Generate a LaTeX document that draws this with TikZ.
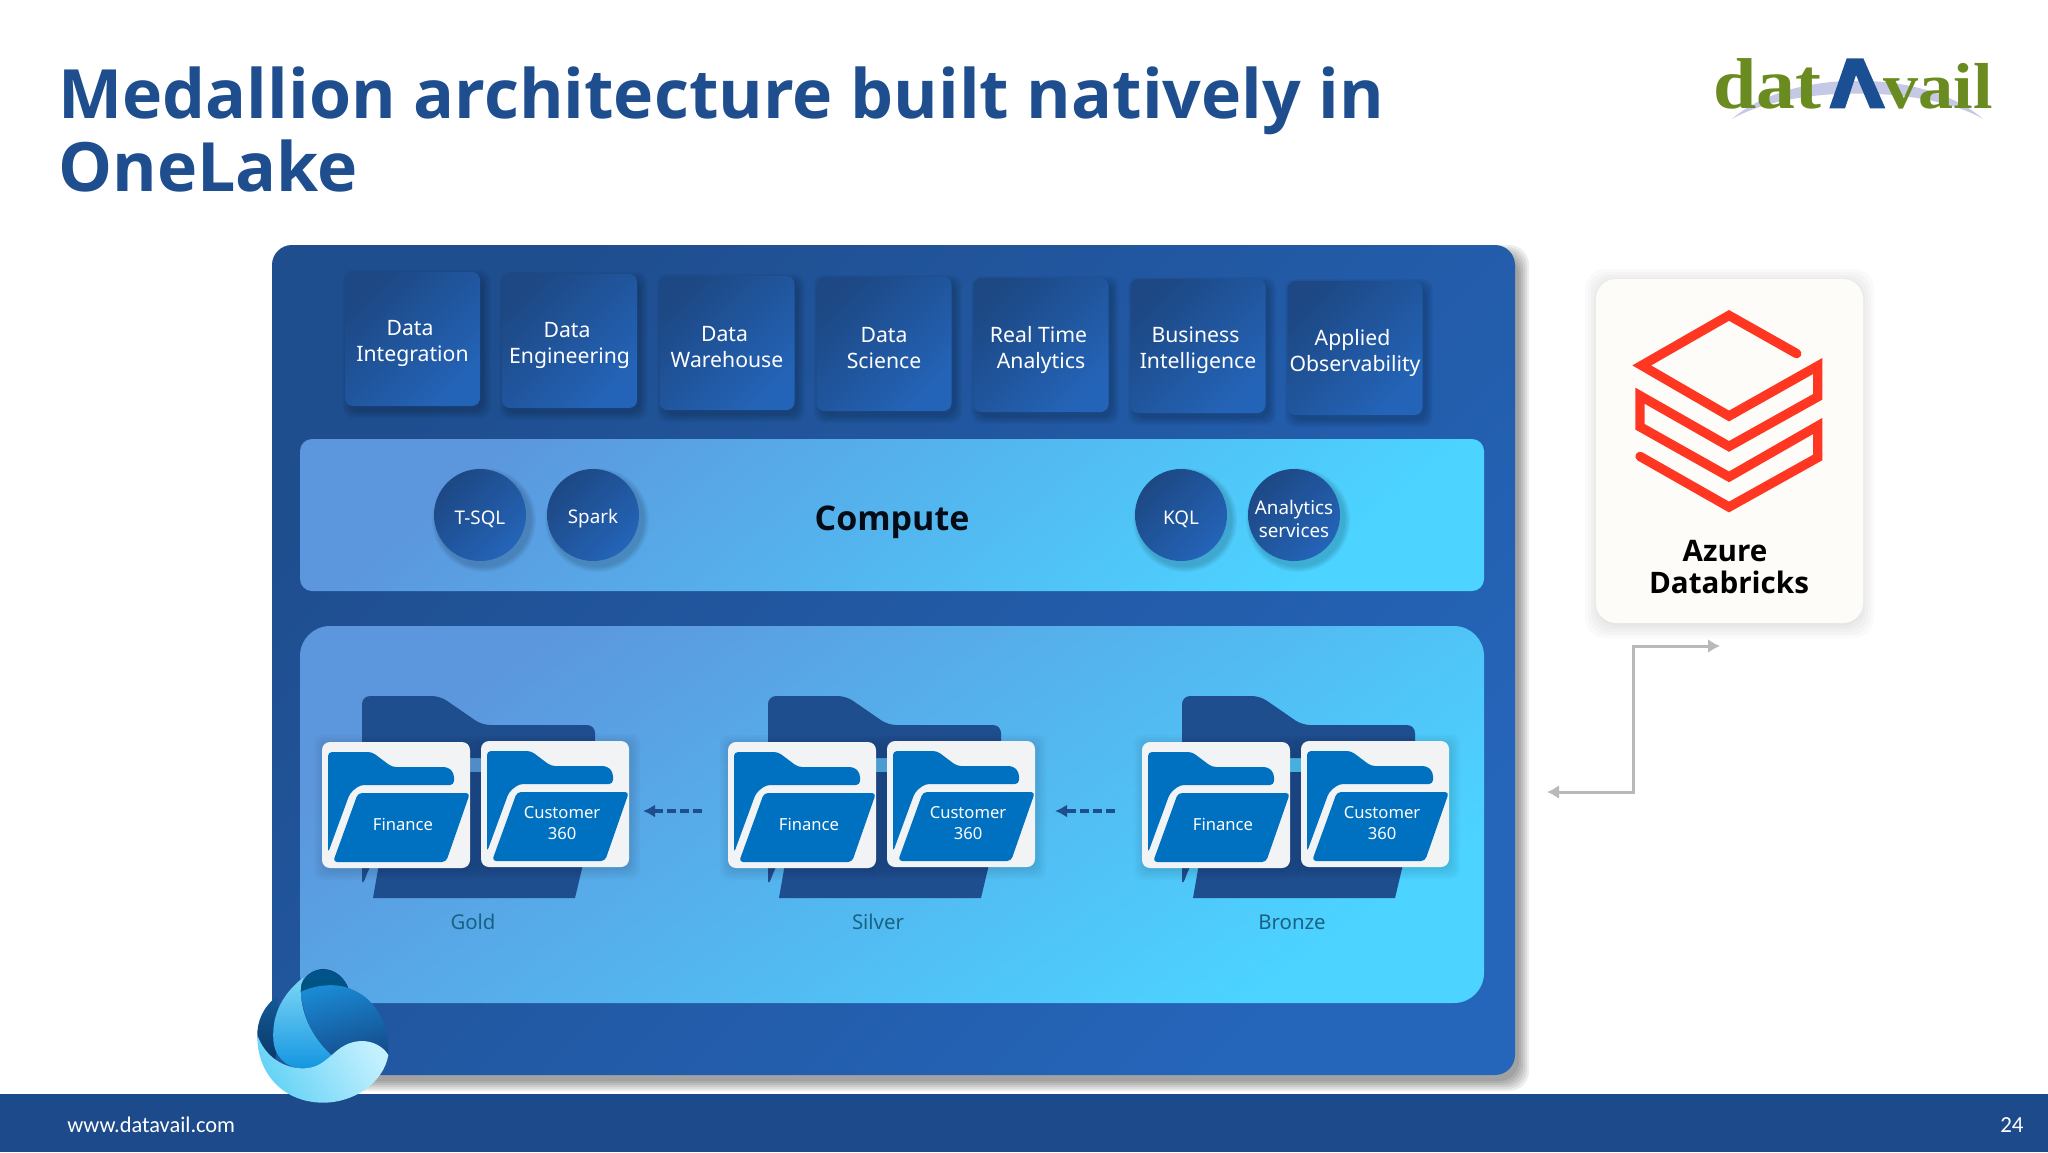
\documentclass[tikz,border=0pt]{standalone}
\usepackage{fontspec}
\setmainfont{Noto Sans}
\newfontfamily\bfont{Open Sans}
\newfontfamily\logofont{Liberation Serif}[BoldFont={Liberation Serif Bold},BoldFeatures={FakeStretch=1.08}]
\newfontfamily\footfont{Carlito}
\usetikzlibrary{arrows.meta}
\definecolor{navy}{HTML}{1F4E8F}
\definecolor{navyD}{HTML}{1C4A8A}
\definecolor{panelA}{HTML}{1F4E8F}
\definecolor{panelB}{HTML}{2565BA}
\definecolor{tileA}{HTML}{1D4884}
\definecolor{tileB}{HTML}{2464B8}
\definecolor{bandA}{HTML}{5C96DD}
\definecolor{bandB}{HTML}{4CD3FF}
\definecolor{folderblue}{HTML}{0070C0}
\definecolor{cardwhite}{HTML}{F2F3F5}
\definecolor{brick}{HTML}{FF3621}
\definecolor{logogreen}{HTML}{6A8B1F}
\definecolor{logoblue}{HTML}{1B4F93}
\definecolor{lilac}{HTML}{C6C9E6}
\definecolor{teal1}{HTML}{1A6285}
\definecolor{greyline}{HTML}{B9B9B9}
\definecolor{dbxcard}{HTML}{FDFCF8}
\newcommand{\trl}[1]{\hbox{}\kern#1\hbox{}}
\newcommand{\softshadow}[7]{%
  \foreach \k in {1,...,6}{%
    \fill[black,fill opacity=#7,rounded corners=#5]
      ({#1-(6-\k)*#6},{#2-(6-\k)*#6}) rectangle ({#3+(6-\k)*#6},{#4+(6-\k)*#6});
  }}
\newcommand{\smallfolder}[4]{% name, x, y, text
  \softshadow{#2+2}{#3+3}{#2+149}{#3+128}{4pt}{2}{0.018}
  \node[cardbox] (#1) at ({#2+74},{#3+63}) {};
  \begin{scope}[shift={(#2,#3)}]
    \fill[folderblue,rounded corners=2pt] (6,10) -- (50,10) -- (70,25) -- (126,25) -- (132,31) -- (132,43) -- (38,43) -- (28,51) -- (6,111) -- cycle;
    \fill[folderblue,rounded corners=2pt] (36,51) -- (148,51) -- (124,120) -- (11,120) -- cycle;
    \node[foldertext] (#1t) at (81,82) {#4};
  \end{scope}}
\newcommand{\foldergroup}[2]{% prefix, dx
  \begin{scope}[shift={(#2,0)}]
    \fill[navy,rounded corners=4pt] (362,887) -- (362,696) -- (440,696) -- (482,725) -- (595,725) -- (595,758) -- (440,758) -- (369,868) -- cycle;
    \fill[navy] (395,772) -- (605,772) -- (575,898) -- (373,898) -- cycle;
    \smallfolder{#1fin}{322}{742}{Finance}
    \smallfolder{#1cus}{481}{741}{Customer\\360}
  \end{scope}}
\tikzset{
  tile/.style={minimum width=67.5pt,minimum height=67pt,rounded corners=4pt,inner sep=0pt,
    top color=tileA,bottom color=tileB,shading angle=45},
  tiletext/.style={text=white,align=center,inner sep=0pt,font=\fontsize{10.6}{13}\selectfont},
  engine/.style={circle,minimum size=46pt,inner sep=0pt,top color=tileA,bottom color=tileB,shading angle=45},
  enginetext/.style={text=white,align=center,inner sep=0pt,font=\fontsize{9.4}{11.8}\selectfont},
  cardbox/.style={minimum width=74pt,minimum height=63pt,rounded corners=4pt,fill=cardwhite,inner sep=0pt},
  foldertext/.style={text=white,align=center,font=\fontsize{8.3}{10.2}\selectfont},
  layerlabel/.style={text=teal1,font=\fontsize{10.2}{11}\selectfont},
  flowdash/.style={navy,line width=1.6pt,dash pattern=on 4.5pt off 2pt,-{Latex[length=6pt,width=6.5pt]}},
  linkline/.style={greyline,line width=1.5pt,{Latex[length=6pt,width=7pt]}-{Latex[length=6pt,width=7pt]}}
}
\begin{document}
\begin{tikzpicture}[x=0.5pt,y=-0.5pt]
\useasboundingbox (0,0) rectangle (2048,1152);
\fill[white] (0,0) rectangle (2048,1152);
% title
\node[anchor=north west,inner sep=0pt,align=left,text=navy,font=\bfont\bfseries\fontsize{34}{36.8}\selectfont] (title) at (58,66) {Medallion architecture built natively in\\OneLake};
% logo
\fill[lilac] (1732,119) .. controls (1790,68) and (1925,68) .. (1983,119) .. controls (1925,85) and (1790,85) .. (1732,119) -- cycle;
\node[anchor=base west,inner sep=0pt,text=logogreen,font=\logofont\bfseries\fontsize{36}{36}\selectfont] (logoa) at (1713,108) {dat};
\node[anchor=base west,inner sep=0pt,text=logogreen,font=\logofont\bfseries\fontsize{32.5}{33}\selectfont] (logob) at (1883,108) {vail};
\fill[logoblue] (1829.3,108.3) -- (1846.7,58.3) -- (1863.3,58.3) -- (1885.3,108.3) -- (1870,108.3) -- (1856,75) -- (1845,108.3) -- cycle;
% main panel
\softshadow{282}{255}{1519}{1081}{10pt}{2}{0.07}
\path[top color=panelA,bottom color=panelB,shading angle=45,rounded corners=10pt] (272,245) rectangle (1515,1075);
% tiles
\foreach \nm/\cx/\cy/\txt in {t1/412.5/339/{Data\trl{2.5pt}\\Integration},t2/569.5/341/{Data\trl{2.5pt}\\Engineering},t3/727/343/{Data\trl{2.5pt}\\Warehouse},t4/884/344/{Data\\Science},t5/1041/345/{Real Time\trl{2.5pt}\\Analytics},t6/1198/346/{Business\trl{2.5pt}\\Intelligence},t7/1355/348/{Applied\trl{2.5pt}\\Observability}}{
  \softshadow{\cx-63}{\cy-62}{\cx+71}{\cy+72}{5pt}{1.4}{0.035}
  \node[tile] (\nm) at (\cx,\cy) {};
  \node[tiletext] (\nm t) at (\cx,\cy+4.5) {\txt};
}
% compute band
\path[top color=bandA,bottom color=bandB,shading angle=40,rounded corners=6pt] (300,439) rectangle (1484,591);
\node[font=\bfont\bfseries\fontsize{17}{20}\selectfont,text=black!85!navy] (compute) at (892,522) {Compute};
\foreach \nm/\cx/\cy/\txt in {c1/480/515/{T-SQL},c2/593/515/{Spark},c3/1181/515/{KQL},c4/1294/515/{Analytics\\services}}{
  \foreach \k in {1,...,5}{
    \fill[black,fill opacity=0.035] (\cx+4,\cy+5) circle ({(46+(6-\k)*1.2)*0.5pt});
  }
  \node[engine] (\nm) at (\cx,\cy) {};
  \node[enginetext] (\nm t) at (\cx,\cy+4) {\txt};
}
% lake band
\path[top color=bandA,bottom color=bandB,shading angle=35,rounded corners=15pt] (300,626) rectangle (1484,1003);
\foldergroup{g}{0}
\foldergroup{s}{406}
\foldergroup{b}{820}
\node[layerlabel] (goldl) at (473,922) {Gold};
\node[layerlabel] (silverl) at (878,922) {Silver};
\node[layerlabel] (bronzel) at (1292,922) {Bronze};
% dashed flows
\coordinate (f1s) at (702,811); \coordinate (f1e) at (643,811);
\coordinate (f2s) at (1115,811); \coordinate (f2e) at (1055,811);
\draw[flowdash] (f1s) -- (f1e);
\draw[flowdash] (f2s) -- (f2e);
% databricks card
\softshadow{1600}{284}{1859}{623}{10pt}{3}{0.018}
\node[minimum width=133.5pt,minimum height=172pt,rounded corners=10pt,fill=dbxcard,inner sep=0pt] (dbx) at (1729.5,451) {};
\draw[brick,line width=4.7pt,line cap=round,miter limit=10] (1796.7,353.6) -- (1729,315.4) -- (1641.7,365.4) -- (1729,416) -- (1817.7,366) -- (1817.7,396.8) -- (1729,446.4) -- (1640,395.7) -- (1640,426.8) -- (1729,476.8) -- (1817.7,426) -- (1817.7,457.5) -- (1729,507) -- (1640,456.4);
\node[text=black,font=\bfont\bfseries\fontsize{14.8}{16.3}\selectfont,align=center] (dbxt) at (1729,567) {Azure\trl{4pt}\\Databricks};
% connector
\coordinate (linkA) at (1720,646);
\coordinate (linkB) at (1547,792);
\coordinate (linkU) at (1633,646);
\coordinate (linkD) at (1633,792);
\draw[linkline] (linkB) -- (linkD) -- (linkU) -- (linkA);
% footer
\fill[navyD] (0,1094) rectangle (2048,1152);
\node[anchor=west,inner sep=0pt,text=white,font=\footfont\fontsize{11.2}{13}\selectfont] (web) at (67,1125) {www.datavail.com};
\node[anchor=east,inner sep=0pt,text=white,font=\footfont\fontsize{11.5}{13}\selectfont] (page) at (2024,1125) {24};
% onelake icon
\begin{scope}[shift={(240,940)},x=0.1666667pt,y=-0.1666667pt]
  \fill[top color=black!15!blue!45!cyan!60!black,bottom color=black!40!blue!45!cyan!60!black] (180,155) .. controls (185,105) and (225,85) .. (255,88) .. controls (285,90) and (312,112) .. (325,145) -- cycle;
  \shade[top color={rgb,255:red,26;green,138;blue,212},bottom color={rgb,255:red,20;green,76;blue,140},shading angle=15] (182,155) .. controls (240,130) and (300,130) .. (340,150) .. controls (410,180) and (450,260) .. (445,345) .. controls (400,300) and (340,295) .. (280,358) .. controls (220,300) and (190,230) .. (182,155) -- cycle;
  \shade[top color={rgb,255:red,18;green,90;blue,150},bottom color={rgb,255:red,10;green,55;blue,105}] (110,170) .. controls (70,200) and (50,245) .. (52,290) .. controls (60,330) and (80,350) .. (105,365) -- (120,250) -- cycle;
  \shade[top color={rgb,255:red,125;green,215;blue,245},bottom color={rgb,255:red,20;green,150;blue,225}] (190,112) .. controls (130,160) and (95,220) .. (100,300) .. controls (102,340) and (130,385) .. (190,385) .. controls (230,385) and (260,375) .. (285,355) .. controls (220,300) and (185,230) .. (182,155) .. controls (182,140) and (185,125) .. (190,112) -- cycle;
  \shade[left color={rgb,255:red,100;green,210;blue,245},right color={rgb,255:red,195;green,240;blue,255},shading angle=120] (52,285) .. controls (75,350) and (130,385) .. (190,385) .. controls (270,385) and (280,305) .. (365,303) .. controls (400,303) and (430,320) .. (445,345) .. controls (430,430) and (340,488) .. (250,488) .. controls (130,488) and (50,400) .. (52,285) -- cycle;
\end{scope}
\end{tikzpicture}
\end{document}
